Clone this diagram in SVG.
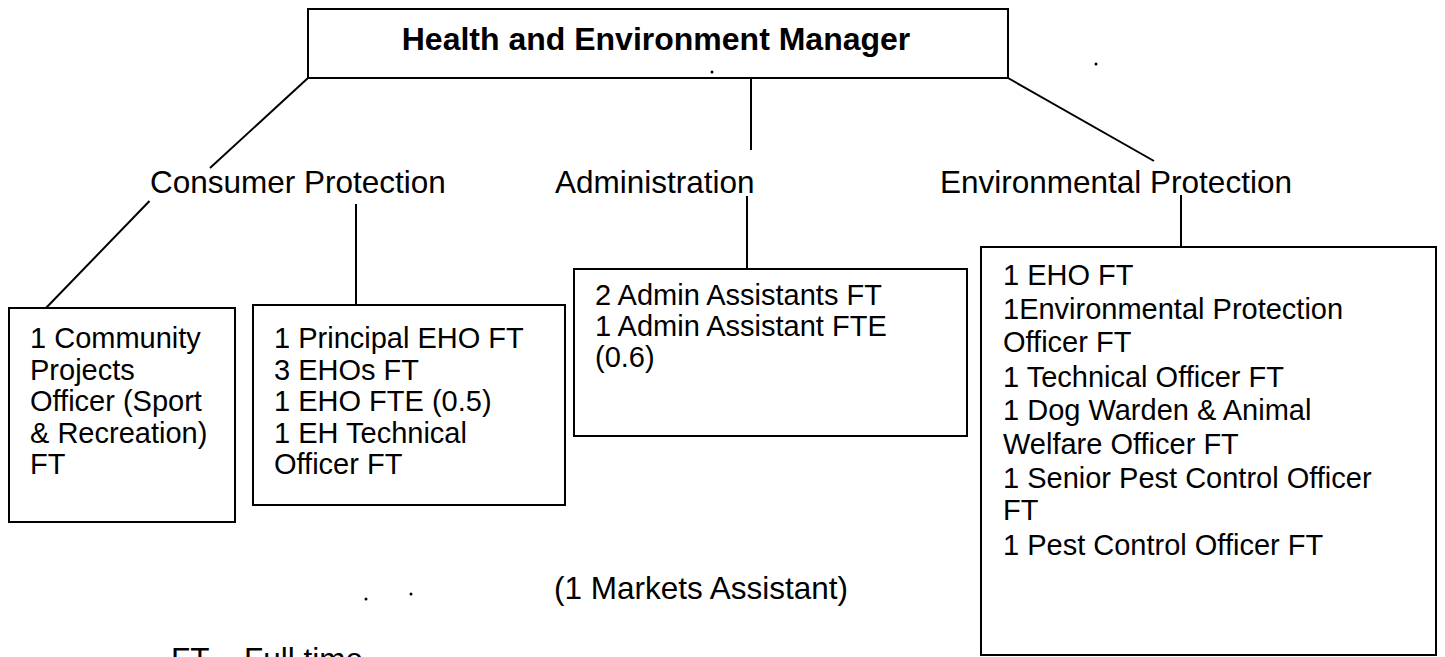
<svg xmlns="http://www.w3.org/2000/svg" width="1445" height="657" viewBox="0 0 1445 657">
<style>
.box{fill:#fff;stroke:#000;stroke-width:2}
.ln{stroke:#000;stroke-width:2;fill:none}
.t{font-family:"Liberation Sans",Arial,sans-serif;font-size:29px;fill:#000}
.lbl{font-family:"Liberation Sans",Arial,sans-serif;font-size:31.5px;fill:#000}
.ttl{font-family:"Liberation Sans",Arial,sans-serif;font-size:32px;font-weight:bold;fill:#000}
</style>
<rect width="1445" height="657" fill="#fff"/>
<g id="connectors">
<line class="ln" x1="308" y1="78" x2="210" y2="168"/>
<line class="ln" x1="149.5" y1="201" x2="46" y2="308"/>
<line class="ln" x1="356" y1="204" x2="356" y2="305"/>
<line class="ln" x1="751" y1="78" x2="751" y2="150"/>
<line class="ln" x1="747" y1="196" x2="747" y2="269"/>
<line class="ln" x1="1008" y1="78" x2="1154" y2="161"/>
<line class="ln" x1="1181" y1="195" x2="1181" y2="247"/>
</g>
<g id="manager">
<rect class="box" x="308" y="9" width="700" height="69"/>
<text class="ttl" x="656" y="50" text-anchor="middle">Health and Environment Manager</text>
</g>
<g id="consumer-protection"><text class="lbl" x="150" y="193">Consumer Protection</text></g>
<g id="administration"><text class="lbl" x="555" y="193">Administration</text></g>
<g id="environmental-protection"><text class="lbl" x="940" y="193">Environmental Protection</text></g>
<g id="community">
<rect class="box" x="9" y="308" width="226" height="214"/>
<text class="t" x="30" y="348">1 Community</text>
<text class="t" x="30" y="379.5">Projects</text>
<text class="t" x="30" y="411">Officer (Sport</text>
<text class="t" x="30" y="442.5">&amp; Recreation)</text>
<text class="t" x="30" y="474">FT</text>
</g>
<g id="principal">
<rect class="box" x="253" y="305" width="312" height="200"/>
<text class="t" x="274" y="348">1 Principal EHO FT</text>
<text class="t" x="274" y="379.5">3 EHOs FT</text>
<text class="t" x="274" y="411">1 EHO FTE (0.5)</text>
<text class="t" x="274" y="442.5">1 EH Technical</text>
<text class="t" x="274" y="474">Officer FT</text>
</g>
<g id="admin-staff">
<rect class="box" x="574" y="269" width="393" height="167"/>
<text class="t" x="595" y="305">2 Admin Assistants FT</text>
<text class="t" x="595" y="336">1 Admin Assistant FTE</text>
<text class="t" x="595" y="367">(0.6)</text>
</g>
<g id="env-staff">
<rect class="box" x="981" y="247" width="455" height="408"/>
<text class="t" x="1003" y="285">1 EHO FT</text>
<text class="t" x="1003" y="319">1Environmental Protection</text>
<text class="t" x="1003" y="352">Officer FT</text>
<text class="t" x="1003" y="387">1 Technical Officer FT</text>
<text class="t" x="1003" y="420">1 Dog Warden &amp; Animal</text>
<text class="t" x="1003" y="454">Welfare Officer FT</text>
<text class="t" x="1003" y="488">1 Senior Pest Control Officer</text>
<text class="t" x="1003" y="520">FT</text>
<text class="t" x="1003" y="555">1 Pest Control Officer FT</text>
</g>
<g id="notes">
<text class="lbl" x="554" y="599">(1 Markets Assistant)</text>
<text class="lbl" x="171" y="670">FT – Full time</text>
<circle cx="712" cy="72" r="1.5"/>
<circle cx="1096" cy="64" r="1.5"/>
<circle cx="366" cy="599" r="1.5"/>
<circle cx="411" cy="594" r="1.5"/>
</g>
</svg>
